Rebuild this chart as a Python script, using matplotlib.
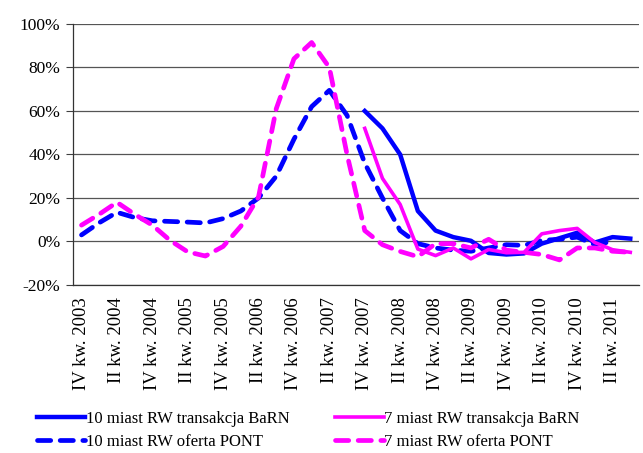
import numpy as np
import matplotlib
matplotlib.use('Agg')
import matplotlib.pyplot as plt
from matplotlib.ticker import FuncFormatter

plt.rcParams['font.family'] = ['Liberation Serif', 'DejaVu Serif']
plt.rcParams['font.size'] = 12

# quarters IV 2003 .. III 2011 (32 quarters), every other one is labelled
tick_labels = ['IV kw. 2003', 'II kw. 2004', 'IV kw. 2004', 'II kw. 2005',
               'IV kw. 2005', 'II kw. 2006', 'IV kw. 2006', 'II kw. 2007',
               'IV kw. 2007', 'II kw. 2008', 'IV kw. 2008', 'II kw. 2009',
               'IV kw. 2009', 'II kw. 2010', 'IV kw. 2010', 'II kw. 2011']
n_quarters = 32

nan = np.nan
# y/y change, %
barn_10 = [nan] * 16 + [60, 52, 40, 14, 5, 2, 0.3, -5.3, -6, -5.5, -1, 1.5, 4, -0.5, 2, 1.3]
barn_7 = [nan] * 16 + [52, 29, 17, -3.5, -6.5, -3, -8, -3.7, -5.2, -5, 3.5, 5, 6, -0.5, -3.8, -5]
pont_10 = [3, 8.6, 13.4, 11, 9.5, 9.2, 8.9, 8.5, 10.5, 14, 20, 30, 47, 62, 69.5, 58,
           36, 20, 5, -1, -3, -4, -4.5, -3, -1.5, -1.8, 0.5, 1, 2, -1.5, 0, nan]
pont_7 = [7.5, 12.5, 18, 12.5, 7.5, 0.5, -4.8, -6.7, -2.3, 7, 20.5, 61, 84, 91.5, 80, 40,
          5, -1.5, -4.6, -7, -1, -1, -3, 1, -4, -5, -6, -8.5, -3, -3, -4.5, -5]

x = np.arange(n_quarters)

fig = plt.figure(figsize=(6.43, 4.53), dpi=100)
ax = fig.add_axes([0.113, 0.371, 0.881, 0.576])

blue = '#0000ff'
pink = '#ff00ff'
ax.plot(x, barn_10, color=blue, lw=3.2, label='10 miast RW transakcja BaRN', zorder=3)
ax.plot(x, pont_10, color=blue, lw=3.4, ls=(0, (2.8, 2.0)), dash_capstyle='round',
        label='10 miast RW oferta PONT', zorder=3)
ax.plot(x, barn_7, color=pink, lw=2.6, label='7 miast RW transakcja BaRN', zorder=3)
ax.plot(x, pont_7, color=pink, lw=3.4, ls=(0, (2.8, 2.0)), dash_capstyle='round',
        label='7 miast RW oferta PONT', zorder=3)

ax.set_xlim(-0.5, n_quarters - 0.5)
ax.set_ylim(-20, 100)
ax.set_yticks(np.arange(-20, 101, 20))
ax.yaxis.set_major_formatter(FuncFormatter(lambda v, p: f'{v:.0f}%'))
ax.set_xticks(x[::2])
ax.set_xticklabels(tick_labels, rotation=90)
ax.tick_params(axis='x', length=0, pad=9, labelsize=13.5)
ax.tick_params(axis='y', length=5, width=0.8, color='#404040', pad=4, labelsize=12.5)
ax.grid(axis='y', color='#555555', lw=0.9)
ax.set_axisbelow(True)
for side in ['top', 'right']:
    ax.spines[side].set_visible(False)
for side in ['left', 'bottom']:
    ax.spines[side].set_color('#333333')
    ax.spines[side].set_linewidth(0.9)

fig.legend(loc='upper left', bbox_to_anchor=(0.057, 0.092), ncol=2, frameon=False,
           handlelength=2.9, handletextpad=0.05, columnspacing=2.75,
           labelspacing=0.42, borderaxespad=0, borderpad=0, fontsize=12)

fig.savefig('out.png', dpi=100)
